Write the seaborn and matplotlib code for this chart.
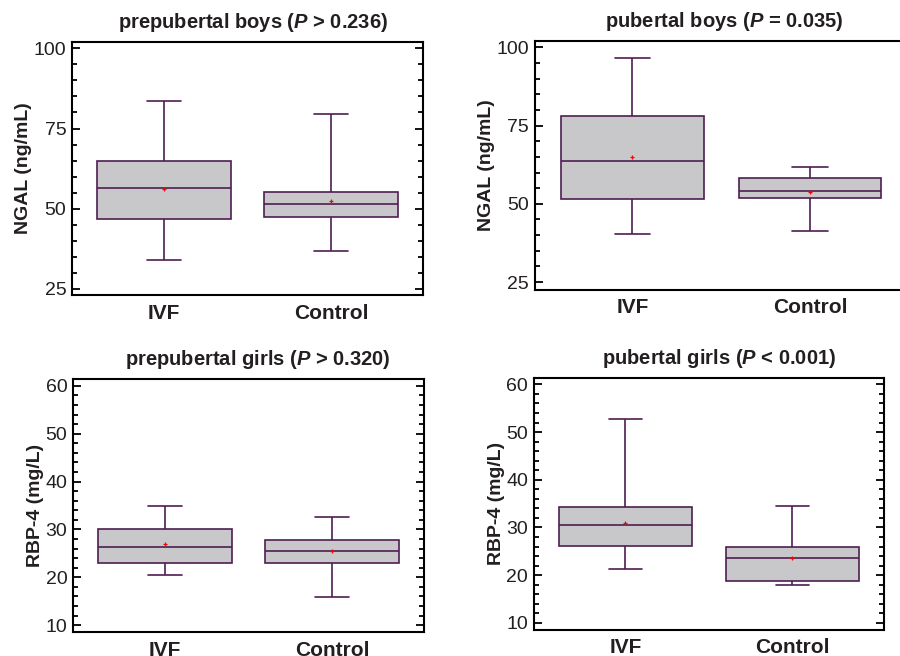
import matplotlib
matplotlib.use("Agg")
import matplotlib.pyplot as plt
import pandas as pd
import seaborn as sns
from matplotlib.ticker import MultipleLocator

sns.set_theme(style="ticks")
plt.rcParams["font.family"] = ["Liberation Sans", "DejaVu Sans"]
plt.rcParams["mathtext.fontset"] = "custom"
plt.rcParams["mathtext.it"] = "Liberation Sans:italic:bold"
plt.rcParams["mathtext.rm"] = "Liberation Sans:bold"

# Gruppen und Kennwerte (min, Q1, Median, Q3, max)
groups = ["IVF", "Control"]

pre_boys_ivf = [34.0, 46.8, 56.6, 65.0, 83.6]
pre_boys_ctrl = [36.8, 47.4, 51.3, 55.2, 79.6]
pre_boys_means = [56.1, 52.4]

pub_boys_ivf = [40.3, 51.5, 63.7, 78.0, 96.7]
pub_boys_ctrl = [41.4, 52.0, 54.0, 58.4, 61.8]
pub_boys_means = [65.1, 53.9]

pre_girls_ivf = [20.4, 22.9, 26.4, 30.0, 34.8]
pre_girls_ctrl = [15.8, 23.0, 25.5, 27.7, 32.6]
pre_girls_means = [26.9, 25.4]

pub_girls_ivf = [21.3, 26.2, 30.6, 34.3, 52.7]
pub_girls_ctrl = [17.9, 18.7, 23.6, 25.9, 34.5]
pub_girls_means = [30.9, 23.5]

titles = [
    r"prepubertal boys ($P$ > 0.236)",
    r"pubertal boys ($P$ = 0.035)",
    r"prepubertal girls ($P$ > 0.320)",
    r"pubertal girls ($P$ < 0.001)",
]
ylabels = ["NGAL (ng/mL)", "NGAL (ng/mL)", "RBP-4 (mg/L)", "RBP-4 (mg/L)"]

BOX_FILL = "#c8c8ca"
LINE = "#4f1d52"
TEXT = "#231f20"


def make_df(ivf, ctrl):
    return pd.DataFrame(
        {"Group": ["IVF"] * len(ivf) + ["Control"] * len(ctrl), "Value": ivf + ctrl}
    )


# (Daten, Mittelwerte, Achsenposition, ylim, Hauptticks, Nebenticks, Titel-x)
panels = [
    (make_df(pre_boys_ivf, pre_boys_ctrl), pre_boys_means,
     [0.080, 0.550, 0.390, 0.386], (23, 102), (25, 100, 25), 5, 0.516),
    (make_df(pub_boys_ivf, pub_boys_ctrl), pub_boys_means,
     [0.594, 0.558, 0.415, 0.3795], (22.5, 102), (25, 100, 25), 5, 0.507),
    (make_df(pre_girls_ivf, pre_girls_ctrl), pre_girls_means,
     [0.081, 0.036, 0.390, 0.386], (8.5, 61.4), (10, 60, 10), 2, 0.528),
    (make_df(pub_girls_ivf, pub_girls_ctrl), pub_girls_means,
     [0.593, 0.0396, 0.3893, 0.3846], (8.5, 61.4), (10, 60, 10), 2, 0.529),
]

fig = plt.figure(figsize=(9, 6.56), dpi=100)

for i, (df, means, pos, ylim, (lo, hi, step), minor, tx) in enumerate(panels):
    ax = fig.add_axes(pos)
    sns.boxplot(
        data=df, x="Group", y="Value", order=groups, ax=ax,
        whis=(0, 100), width=0.8, color=BOX_FILL, linecolor=LINE,
        linewidth=1.2, saturation=1, capwidths=0.2,
    )
    sns.stripplot(
        x=groups, y=means, order=groups, ax=ax, jitter=False,
        color="red", marker="+", size=3, linewidth=0.9,
    )
    ax.set_xlim(-0.55, 1.55)
    ax.set_ylim(*ylim)
    ax.set_yticks(range(lo, hi + 1, step))
    ax.yaxis.set_minor_locator(MultipleLocator(minor))
    ax.tick_params(axis="y", which="both", direction="in", left=True, right=True,
                   labelsize=14, colors="black", labelcolor=TEXT, width=1.3)
    ax.tick_params(axis="y", which="major", length=6, pad=4)
    ax.tick_params(axis="y", which="minor", length=3.5)
    ax.tick_params(axis="x", length=0, pad=6)
    for lab in ax.get_xticklabels():
        lab.set_fontweight("bold")
        lab.set_fontsize(15)
        lab.set_color(TEXT)
    for sp in ax.spines.values():
        sp.set_visible(True)
        sp.set_linewidth(1.5)
        sp.set_color("black")
    ax.set_xlabel("")
    ax.set_ylabel(ylabels[i], fontsize=14, fontweight="bold", color=TEXT, labelpad=1)
    ax.set_title(titles[i], fontsize=14.5, fontweight="bold", color=TEXT, pad=10, x=tx)

fig.savefig("out.png", dpi=100)
